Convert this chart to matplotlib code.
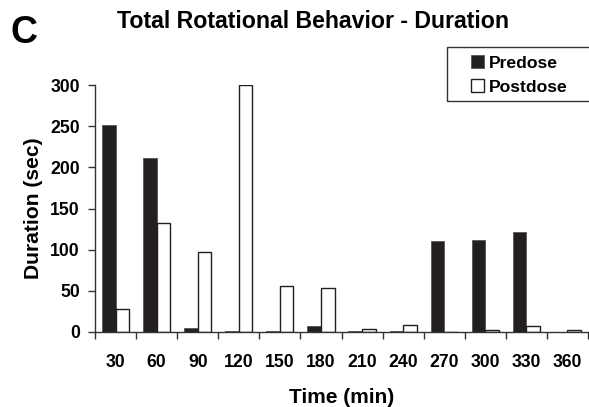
import numpy as np
import matplotlib.pyplot as plt
from matplotlib.patches import Rectangle

plt.rcParams['font.family'] = ['Liberation Sans', 'DejaVu Sans']
plt.rcParams['font.weight'] = 'bold'
plt.rcParams['axes.labelweight'] = 'bold'

times = [30, 60, 90, 120, 150, 180, 210, 240, 270, 300, 330, 360]
predose = [251, 211, 5, 1, 1, 7, 1, 1, 111, 112, 122, 0]
postdose = [28, 132, 97, 300, 56, 53, 4, 8, 0, 3, 7, 3]

DARK = '#231f20'


def main():
    fig = plt.figure(figsize=(5.89, 4.07), dpi=100)
    ax = fig.add_axes([95 / 589, 1 - 332 / 407, 493 / 589, 247 / 407])

    x = np.arange(len(times))
    w = 0.33
    ax.bar(x - w / 2, predose, w, color=DARK, edgecolor='#555555',
           linewidth=0.6, label='Predose')
    ax.bar(x + w / 2, postdose, w, color='white', edgecolor=DARK,
           linewidth=1.0, label='Postdose')

    ax.set_xlim(-0.5, len(times) - 0.5)
    ax.set_ylim(0, 300)
    ax.set_yticks(range(0, 301, 50))
    ax.set_xticks(x)
    ax.set_xticklabels([str(t) for t in times])
    ax.set_xticks(np.arange(len(times) + 1) - 0.5, minor=True)
    ax.tick_params(axis='x', which='major', length=0, pad=16, labelsize=12.7)
    ax.tick_params(axis='x', which='minor', length=5, width=1, color='#333333')
    ax.tick_params(axis='y', length=5, width=1, color='#333333', pad=6,
                   labelsize=12.7)

    for side in ('top', 'right'):
        ax.spines[side].set_visible(False)
    for side in ('left', 'bottom'):
        ax.spines[side].set_color('#333333')
        ax.spines[side].set_linewidth(1)

    ax.set_xlabel('Time (min)', fontsize=15, labelpad=12)
    ax.set_ylabel('Duration (sec)', fontsize=15.2, labelpad=5)

    fig.text(313 / 589, 1 - 28 / 407, 'Total Rotational Behavior - Duration',
             ha='center', va='baseline', fontsize=16.7)
    fig.text(10 / 589, 1 - 43 / 407, 'C', ha='left', va='baseline', fontsize=27)

    fig.legend(loc='upper left', bbox_to_anchor=(457 / 589, 1 - 41 / 407),
               frameon=False, fontsize=12.6, handlelength=0.75,
               handleheight=0.75, handletextpad=0.25, labelspacing=0.5,
               borderpad=0.3)
    fig.add_artist(Rectangle((447 / 589, 1 - 101 / 407), 160 / 589, 54 / 407,
                             transform=fig.transFigure, fill=False,
                             edgecolor='#333333', linewidth=1, clip_on=False))

    fig.savefig('out.png', dpi=100)


if __name__ == '__main__':
    main()
